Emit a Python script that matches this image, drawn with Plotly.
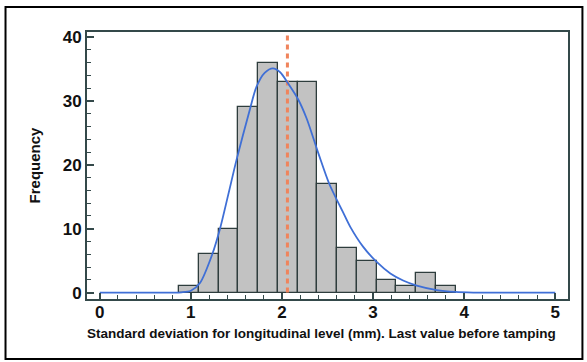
import plotly.graph_objects as go

# Histogram data (bin centers, counts)
bin_centers = [0.98, 1.197, 1.413, 1.63, 1.847, 2.063, 2.28, 2.497, 2.713, 2.93, 3.147, 3.363, 3.58, 3.797]
bin_width = 0.217
counts = [1, 6, 10, 29, 36, 33, 33, 17, 7, 5, 2, 1, 3, 1]

# Fitted curve
curve_x = [0.0, 0.5, 0.8, 0.9, 1.0, 1.1, 1.235, 1.32, 1.41, 1.50, 1.65, 1.72, 1.81, 1.90,
           1.98, 2.07, 2.18, 2.27, 2.40, 2.52, 2.67, 2.75, 2.89, 3.04, 3.19, 3.33, 3.48,
           3.70, 3.90, 4.10, 4.50, 5.0]
curve_y = [0, 0, 0, 0.05, 0.3, 1.5, 6.0, 10.0, 15.3, 20.7, 28.8, 32.2, 34.4, 35.1,
           34.5, 32.7, 30.2, 27.3, 21.8, 17.0, 12.6, 10.3, 7.2, 4.8, 3.0, 1.9, 1.1,
           0.4, 0.1, 0, 0, 0]

mean_value = 2.06

x_ticks = [0, 1, 2, 3, 4, 5]
y_ticks = [0, 10, 20, 30, 40]

x_title = "Standard deviation for longitudinal level (mm). Last value before tamping"
y_title = "Frequency"

frame = "#34494a"
font_family = "Liberation Sans, Arial, sans-serif"

fig = go.Figure()
fig.add_trace(go.Bar(
    x=bin_centers, y=counts, width=[bin_width] * len(counts),
    marker=dict(color="#c2c2c2", line=dict(color="#2e3d3d", width=1.3)),
    showlegend=False, hoverinfo="x+y",
))
fig.add_trace(go.Scatter(
    x=[mean_value, mean_value], y=[0, 40.8], mode="lines",
    line=dict(color="#f0845c", width=3, dash="5px,4px"),
    showlegend=False,
))
fig.add_trace(go.Scatter(
    x=curve_x, y=curve_y, mode="lines",
    line=dict(color="#3f6fd6", width=1.8, shape="spline", smoothing=0.8),
    showlegend=False,
))

fig.update_layout(
    width=587, height=362,
    margin=dict(l=87, r=19, t=32, b=63),
    paper_bgcolor="white", plot_bgcolor="white",
    bargap=0,
    font=dict(family=font_family, color="#111111"),
    xaxis=dict(
        range=[-0.14, 5.14], tickvals=x_ticks, ticktext=[str(v) for v in x_ticks],
        showgrid=False, zeroline=False,
        showline=True, mirror=True, linecolor=frame, linewidth=2,
        ticks="inside", ticklen=6, tickwidth=1.5, tickcolor=frame,
        minor=dict(dtick=0.2, ticks="inside", ticklen=4, tickwidth=1.2, tickcolor=frame),
        tickfont=dict(size=17, weight="bold", family=font_family, color="#111"),
        ticklabelstandoff=-3,
    ),
    yaxis=dict(
        range=[-1.0, 40.8], tickvals=y_ticks, ticktext=[str(v) for v in y_ticks],
        showgrid=False, zeroline=False,
        showline=True, mirror=True, linecolor=frame, linewidth=2,
        ticks="inside", ticklen=7, tickwidth=1.5, tickcolor=frame,
        minor=dict(dtick=2, ticks="inside", ticklen=4, tickwidth=1.2, tickcolor=frame),
        tickfont=dict(size=17, weight="bold", family=font_family, color="#111"),
        title=dict(text=y_title, font=dict(size=15, weight="bold", family=font_family, color="#111"),
                   standoff=18),
    ),
    annotations=[dict(text=x_title, xref="paper", yref="paper",
                      x=(321 - 87) / 481, y=(299 - 333) / 267,
                      xanchor="center", yanchor="middle", showarrow=False,
                      font=dict(size=13.5, weight="bold", family=font_family, color="#111"))],
    shapes=[dict(type="rect", xref="paper", yref="paper",
                 x0=-0.1694, x1=1.030, y0=-0.2247, y1=1.0936,
                 line=dict(color="black", width=2), fillcolor="rgba(0,0,0,0)", layer="below")],
)

fig.write_html("out.html")
